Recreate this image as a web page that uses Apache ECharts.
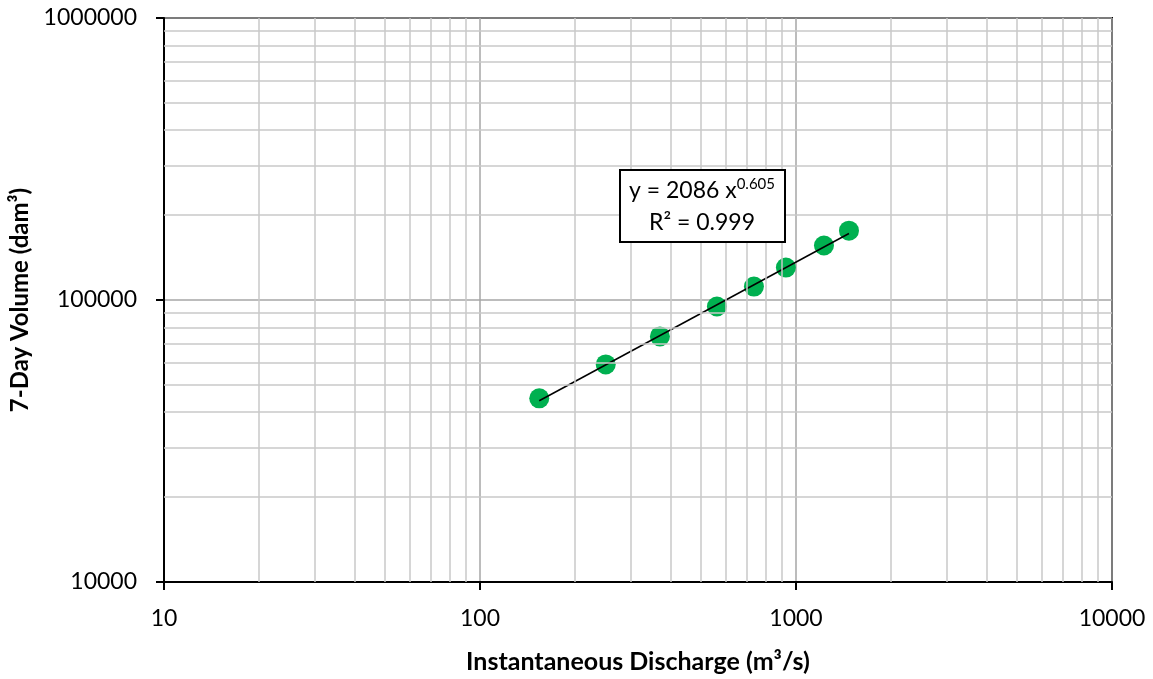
<!DOCTYPE html>
<html><head><meta charset="utf-8">
<script src="https://cdn.jsdelivr.net/npm/echarts@6/dist/echarts.min.js"></script>
<style>html,body{margin:0;padding:0;background:#fff}#c{width:1153px;height:679px}</style>
</head><body><div id="c"></div>
<script>
const discharge = [154, 250, 371, 562, 736, 929, 1226, 1471];
const volume = [44800, 59100, 74300, 94800, 111600, 130300, 156000, 176200];
const fitCoef = 2086, fitExp = 0.605, fitR2 = 0.999;
const xMinorGrid = [20,30,40,50,60,70,80,90,200,300,400,500,600,700,800,900,2000,3000,4000,5000,6000,7000,8000,9000];
const yMinorGrid = [20000,30000,40000,50000,60000,70000,80000,90000,200000,300000,400000,500000,600000,700000,800000,900000];
const xTitle = 'Instantaneous Discharge (m³/s)';
const yTitle = '7-Day Volume (dam³)';

const FONT = 'Lato, "Open Sans", sans-serif';
const xs = [Math.min(...discharge), Math.max(...discharge)];
const trend = xs.map(x => [x, fitCoef * Math.pow(x, fitExp)]);
const plain = v => String(Math.round(v));

const chart = echarts.init(document.getElementById('c'));
const minorStyle = {color: '#c8c8c8', width: 1.5, type: 'solid'};
chart.setOption({
  animation: false,
  grid: {left: 164, right: 41, top: 18, bottom: 96, show: true, borderColor: '#000', borderWidth: 2, backgroundColor: 'transparent'},
  xAxis: {
    type: 'log', logBase: 10, min: 10, max: 10000,
    name: xTitle, nameLocation: 'middle', nameGap: 67,
    nameTextStyle: {fontFamily: FONT, fontWeight: 'bold', fontSize: 25, color: '#000'},
    axisLine: {lineStyle: {color: '#000', width: 2}},
    axisTick: {show: true, inside: false, length: 8, lineStyle: {color: '#000', width: 2}},
    axisLabel: {fontFamily: FONT, fontSize: 23, color: '#000', margin: 25, formatter: plain},
    splitLine: {show: true, lineStyle: {color: '#a6a6a6', width: 1.5}},
    minorTick: {show: false}, minorSplitLine: {show: false}
  },
  yAxis: {
    type: 'log', logBase: 10, min: 10000, max: 1000000,
    name: yTitle, nameLocation: 'middle', nameGap: 130, nameRotate: 90,
    nameTextStyle: {fontFamily: FONT, fontWeight: 'bold', fontSize: 24, color: '#000'},
    axisLine: {lineStyle: {color: '#000', width: 2}},
    axisTick: {show: true, inside: false, length: 8, lineStyle: {color: '#000', width: 2}},
    axisLabel: {fontFamily: FONT, fontSize: 23, color: '#000', margin: 27, formatter: plain},
    splitLine: {show: true, lineStyle: {color: '#a6a6a6', width: 1.5}},
    minorTick: {show: false}, minorSplitLine: {show: false}
  },
  series: [
    {
      type: 'line', data: [], silent: true, z: 1,
      markLine: {
        silent: true, symbol: ['none', 'none'], label: {show: false}, animation: false,
        lineStyle: minorStyle,
        data: xMinorGrid.map(v => ({xAxis: v})).concat(yMinorGrid.map(v => ({yAxis: v})))
      }
    },
    {
      type: 'scatter', data: discharge.map((x, i) => [x, volume[i]]),
      symbolSize: 20, itemStyle: {color: '#00b050', opacity: 1}, z: 3
    },
    {
      type: 'line', data: trend, symbol: 'none', z: 4,
      lineStyle: {color: '#000', width: 1.5}
    }
  ],
  graphic: [
    {type: 'rect', shape: {x: 620, y: 170, width: 165, height: 72}, style: {fill: '#fff', stroke: '#000', lineWidth: 2}, z: 10},
    {type: 'text', x: 702, y: 177, z: 11, style: {
      text: 'y = ' + fitCoef + ' x{sup|' + fitExp.toFixed(3) + '}', fontFamily: FONT, fontSize: 23, fill: '#000', align: 'center',
      rich: {sup: {fontSize: 15, fontFamily: FONT, fill: '#000', padding: [0, 0, 12, 0]}}
    }},
    {type: 'text', x: 702, y: 211, z: 11, style: {
      text: 'R² = ' + fitR2.toFixed(3), fontFamily: FONT, fontSize: 23, fill: '#000', align: 'center'
    }}
  ]
});
</script></body></html>
